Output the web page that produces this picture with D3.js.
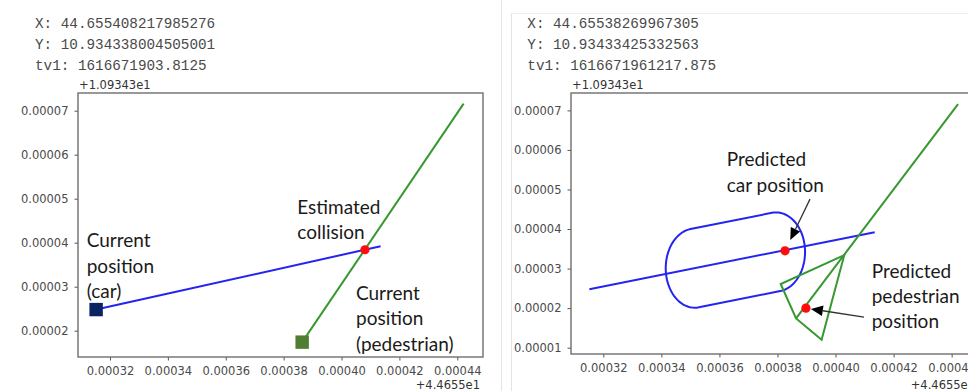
<!DOCTYPE html>
<html>
<head>
<meta charset="utf-8">
<script src="https://cdn.jsdelivr.net/npm/d3@7"></script>
<style>
  html, body { margin: 0; padding: 0; background: #fff; }
  svg { display: block; }
  .hdr { font-family: "Liberation Mono", "DejaVu Sans Mono", monospace; font-size: 14.3px; fill: #4a4a4a; }
  .tick text { font-family: "DejaVu Sans", sans-serif; font-size: 11.5px; fill: #4a4a4a; }
  .offset { font-family: "DejaVu Sans", sans-serif; font-size: 11.5px; fill: #333; }
  .note { font-family: Lato, "Open Sans", sans-serif; font-size: 19px; fill: #1a1a1a; }
</style>
</head>
<body>
<script>
// ---- readouts printed above each plot ----
const headerLeft  = ["X: 44.655408217985276", "Y: 10.934338004505001", "tv1: 1616671903.8125"];
const headerRight = ["X: 44.65538269967305",  "Y: 10.93433425332563",  "tv1: 1616671961217.875"];
const yOffsetLabel = "+1.09343e1";
const xOffsetLabel = "+4.4655e1";

// ---- tick values (offsets from 44.655 / 10.934300) ----
const xTicks      = [0.00032, 0.00034, 0.00036, 0.00038, 0.00040, 0.00042, 0.00044];
const yTicksLeft  = [0.00002, 0.00003, 0.00004, 0.00005, 0.00006, 0.00007];
const yTicksRight = [0.00001, 0.00002, 0.00003, 0.00004, 0.00005, 0.00006, 0.00007];

// ---- trajectories (x offset, y offset) ----
const carPath        = [[0.0003152, 0.0000248], [0.0004135, 0.0000392]];
const pedestrianPath = [[0.0003864, 0.0000174], [0.0004422, 0.0000716]];
const collisionPoint = [0.0004081, 0.0000384];

// ---- predictions ----
const predictedCar        = [0.0003826, 0.0000345];
const predictedPedestrian = [0.0003898, 0.0000200];
const carZoneAxis   = [[0.0003515, 0.0000301], [0.0003795, 0.0000342]];
const carZoneRadius = 0.00001;
const pedestrianCone = [[0.0004030, 0.0000334], [0.0003811, 0.0000261],
                        [0.0003864, 0.0000174], [0.0003952, 0.0000120]];

// ---- annotation texts, anchored in data units (left x, first baseline) ----
const notesLeft = [
  { lines: ["Current", "position", "(car)"],          at: [0.00031195, 0.00003895] },
  { lines: ["Estimated", "collision"],                at: [0.00038472, 0.00004652] },
  { lines: ["Current", "position", "(pedestrian)"],   at: [0.000405,   0.00002698] }
];
const notesRight = [
  { lines: ["Predicted", "car position"],                at: [0.0003625,  0.00005582] },
  { lines: ["Predicted", "pedestrian", "position"],      at: [0.00041246, 0.00002772] }
];
const arrowsRight = [
  { from: [0.0003912, 0.00004757], to: predictedCar,        gap: 12 },
  { from: [0.0004098, 0.0000177],  to: predictedPedestrian, gap: 5 }
];

const W = 968, H = 391;
const BLUE = "#2424f2", GREEN = "#36982f", RED = "#ff0d0d";
const svg = d3.select("body").append("svg").attr("width", W).attr("height", H);

// faint notebook cell separators
svg.append("line").attr("x1", 501.5).attr("x2", 501.5).attr("y1", 0).attr("y2", H)
  .attr("stroke", "#e4e4e4").attr("stroke-width", 1);
svg.append("line").attr("x1", 511.5).attr("x2", 511.5).attr("y1", 13).attr("y2", H)
  .attr("stroke", "#e4e4e4").attr("stroke-width", 1);
svg.append("line").attr("x1", 511.5).attr("x2", W).attr("y1", 13.5).attr("y2", 13.5)
  .attr("stroke", "#ececec").attr("stroke-width", 1);

function header(lines, x) {
  const g = svg.append("g");
  lines.forEach((t, i) => {
    g.append("text").attr("class", "hdr").attr("x", x).attr("y", 28 + i * 20.8).text(t);
  });
}
header(headerLeft, 35);
header(headerRight, 527.3);

function makePanel(o) {
  const x = d3.scaleLinear().domain(o.xDomain).range([o.left, o.right]);
  const y = d3.scaleLinear().domain(o.yDomain).range([o.bottom, o.top]);
  const g = svg.append("g");
  const fmt = d3.format(".5f");

  const xa = g.append("g").attr("transform", `translate(0,${o.bottom})`)
    .call(d3.axisBottom(x).tickValues(xTicks).tickFormat(fmt).tickSize(3.5).tickPadding(6.5));
  const ya = g.append("g").attr("transform", `translate(${o.left},0)`)
    .call(d3.axisLeft(y).tickValues(o.yTicks).tickFormat(fmt).tickSize(3.5).tickPadding(6));
  [xa, ya].forEach(a => {
    a.select(".domain").remove();
    a.selectAll(".tick line").attr("stroke", "#555").attr("stroke-width", 1);
  });

  g.append("rect").attr("x", o.left).attr("y", o.top)
    .attr("width", o.right - o.left).attr("height", o.bottom - o.top)
    .attr("fill", "none").attr("stroke", "#6e6e6e").attr("stroke-width", 1.4);

  g.append("text").attr("class", "offset").attr("x", o.left + 1).attr("y", o.top - 4.5).text(yOffsetLabel);
  g.append("text").attr("class", "offset").attr("x", o.offsetRight).attr("y", 389)
    .attr("text-anchor", "end").text(xOffsetLabel);

  const plot = g.append("g");
  const line = d3.line().x(d => x(d[0])).y(d => y(d[1]));
  return { x, y, plot, line };
}

function notes(p, list) {
  list.forEach(n => {
    const t = p.plot.append("text").attr("class", "note");
    n.lines.forEach((s, i) => {
      t.append("tspan").attr("x", p.x(n.at[0])).attr("y", p.y(n.at[1]) + i * 25.3).text(s);
    });
  });
}

function dot(p, pt) {
  p.plot.append("circle").attr("cx", p.x(pt[0])).attr("cy", p.y(pt[1])).attr("r", 4.6).attr("fill", RED);
}

function square(p, pt, color) {
  const s = 13.4;
  p.plot.append("rect").attr("x", p.x(pt[0]) - s / 2).attr("y", p.y(pt[1]) - s / 2)
    .attr("width", s).attr("height", s).attr("fill", color);
}

// ---------- left: current positions ----------
const L = makePanel({
  left: 78, right: 483, top: 93, bottom: 357,
  xDomain: [0.00030894, 0.00044889], yDomain: [0.000014023, 0.00007402],
  yTicks: yTicksLeft, offsetRight: 480
});
L.plot.append("path").attr("d", L.line(carPath)).attr("fill", "none").attr("stroke", BLUE).attr("stroke-width", 2);
L.plot.append("path").attr("d", L.line(pedestrianPath)).attr("fill", "none").attr("stroke", GREEN).attr("stroke-width", 2);
square(L, carPath[0], "#0a2361");
square(L, pedestrianPath[0], "#4f7d31");
dot(L, collisionPoint);
notes(L, notesLeft);

// ---------- right: predicted positions ----------
const R = makePanel({
  left: 571, right: 979, top: 93, bottom: 354,
  xDomain: [0.00030887, 0.00044942], yDomain: [0.0000084, 0.0000744],
  yTicks: yTicksRight, offsetRight: 975
});
R.plot.append("path").attr("d", R.line(carPath)).attr("fill", "none").attr("stroke", BLUE).attr("stroke-width", 2);
R.plot.append("path").attr("d", R.line(pedestrianPath)).attr("fill", "none").attr("stroke", GREEN).attr("stroke-width", 2);

// capsule around the car's predicted segment (buffer in data units)
(function () {
  const [a, b] = carZoneAxis;
  const phi = Math.atan2(b[1] - a[1], b[0] - a[0]);
  const pts = [];
  const N = 40;
  for (let i = 0; i <= N; i++) {
    const t = phi - Math.PI / 2 + Math.PI * i / N;
    pts.push([b[0] + carZoneRadius * Math.cos(t), b[1] + carZoneRadius * Math.sin(t)]);
  }
  for (let i = 0; i <= N; i++) {
    const t = phi + Math.PI / 2 + Math.PI * i / N;
    pts.push([a[0] + carZoneRadius * Math.cos(t), a[1] + carZoneRadius * Math.sin(t)]);
  }
  R.plot.append("path").attr("d", R.line(pts) + "Z").attr("fill", "none")
    .attr("stroke", BLUE).attr("stroke-width", 2);
})();

R.plot.append("path").attr("d", R.line(pedestrianCone) + "Z").attr("fill", "none")
  .attr("stroke", GREEN).attr("stroke-width", 2).attr("stroke-linejoin", "miter");

dot(R, predictedCar);
dot(R, predictedPedestrian);
notes(R, notesRight);

arrowsRight.forEach(a => {
  const x0 = R.x(a.from[0]), y0 = R.y(a.from[1]);
  const x1 = R.x(a.to[0]), y1 = R.y(a.to[1]);
  const dx = x1 - x0, dy = y1 - y0, len = Math.hypot(dx, dy);
  const ux = dx / len, uy = dy / len;
  const tx = x1 - ux * a.gap, ty = y1 - uy * a.gap;
  const hl = 12, hw = 5.2;
  const bx = tx - ux * hl, by = ty - uy * hl;
  R.plot.append("line").attr("x1", x0).attr("y1", y0).attr("x2", bx).attr("y2", by)
    .attr("stroke", "#333").attr("stroke-width", 1.3);
  R.plot.append("path")
    .attr("d", `M${tx},${ty}L${bx - uy * hw},${by + ux * hw}L${bx + uy * hw},${by - ux * hw}Z`)
    .attr("fill", "#000");
});
</script>
</body>
</html>
